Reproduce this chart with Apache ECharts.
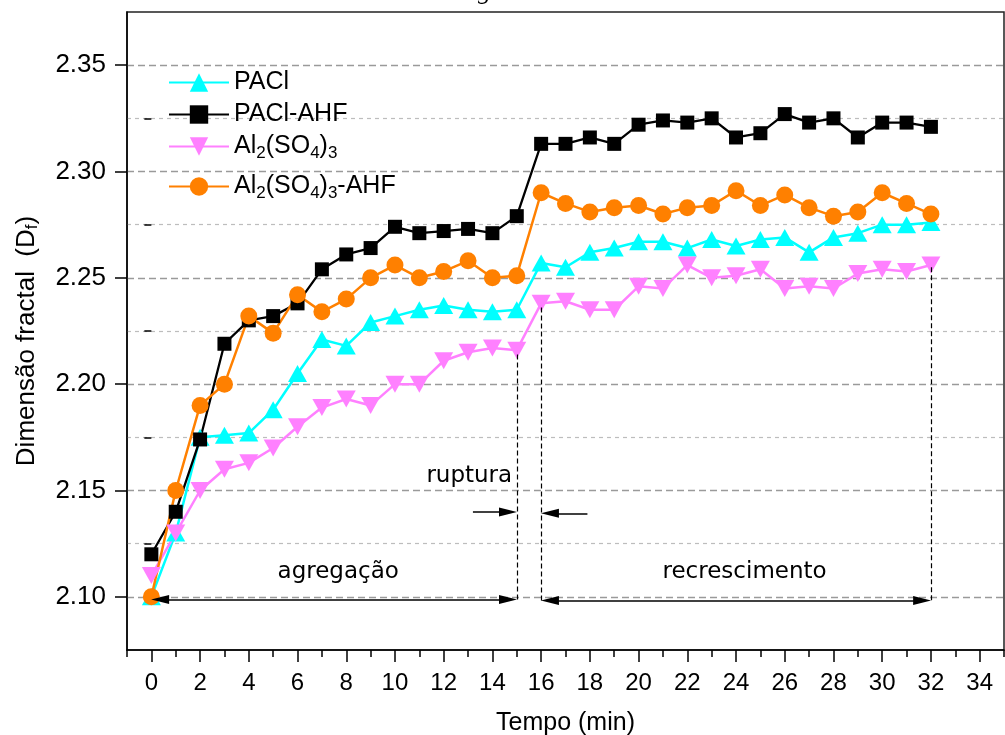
<!DOCTYPE html>
<html>
<head>
<meta charset="utf-8">
<script src="https://cdn.jsdelivr.net/npm/echarts@6/dist/echarts.min.js"></script>
<style>
html,body{margin:0;padding:0;background:#fff;}
#chart{width:1005px;height:735px;}
</style>
</head>
<body>
<div id="chart"></div>
<script>
// ---- data ----
const times = [0,1,2,3,4,5,6,7,8,9,10,11,12,13,14,15,16,17,18,19,20,21,22,23,24,25,26,27,28,29,30,31,32];
const paclValues = [2.100,2.130,2.175,2.176,2.177,2.188,2.205,2.221,2.218,2.229,2.232,2.235,2.237,2.235,2.234,2.235,2.257,2.255,2.262,2.264,2.267,2.267,2.264,2.268,2.265,2.268,2.269,2.262,2.269,2.271,2.275,2.275,2.276];
const paclAhfValues = [2.120,2.140,2.174,2.219,2.230,2.232,2.238,2.254,2.261,2.264,2.274,2.271,2.272,2.273,2.271,2.279,2.313,2.313,2.316,2.313,2.322,2.324,2.323,2.325,2.316,2.318,2.327,2.323,2.325,2.316,2.323,2.323,2.321];
const alsValues = [2.110,2.130,2.150,2.160,2.163,2.170,2.180,2.189,2.193,2.190,2.200,2.200,2.211,2.215,2.217,2.216,2.238,2.239,2.235,2.235,2.246,2.245,2.256,2.250,2.251,2.254,2.245,2.246,2.245,2.252,2.254,2.253,2.256];
const alsAhfValues = [2.100,2.150,2.190,2.200,2.232,2.224,2.242,2.234,2.240,2.250,2.256,2.250,2.253,2.258,2.250,2.251,2.290,2.285,2.281,2.283,2.284,2.280,2.283,2.284,2.291,2.284,2.289,2.283,2.279,2.281,2.290,2.285,2.280];

const seriesNames = ['PACl','PACl-AHF','Al2(SO4)3','Al2(SO4)3-AHF'];
const legendLabels = ['PACl','PACl-AHF','Al{s|2}(SO{s|4}){s|3}','Al{s|2}(SO{s|4}){s|3}-AHF'];

const xMajorTicks = [0,2,4,6,8,10,12,14,16,18,20,22,24,26,28,30,32,34];
const xMinorTicks = [-1,1,3,5,7,9,11,13,15,17,19,21,23,25,27,29,31,33,35];
const yMajorTicks = [2.10,2.15,2.20,2.25,2.30,2.35];
const yMinorTicks = [2.125,2.175,2.225,2.275,2.325];

// annotations (data units); arrow end points sit where the arrowhead centre goes
const guideLines = [[15,2.214,2.0975],[16,2.236,2.0975],[32,2.255,2.0975]];
const phaseArrows = [[0.36,14.64,2.0988],[16.36,31.64,2.0983]];
const ruptureArrows = [[13.2,14.64,2.1399],[17.9,16.36,2.1393]];
const phaseLabels = [['agregação',7.67,2.1116],['recrescimento',24.35,2.1116],['ruptura',13.05,2.1567]];

// ---- build ----
const pair = (vals) => times.map((t,i)=>[t, vals[i]]);
const FONT = 'Liberation Sans, Arial, sans-serif';
const subRich = {
  s: {fontSize: 17, fontFamily: FONT, color:'#000', padding:[14,0,0,0]}
};

const markLineData = [];
guideLines.forEach(g => {
  markLineData.push([{coord:[g[0],g[1]], symbol:'none', lineStyle:{type:[5,3], width:1.2, color:'#000'}},
                     {coord:[g[0],g[2]], symbol:'none'}]);
});
phaseArrows.forEach(a => {
  markLineData.push([{coord:[a[0],a[2]], symbol:'triangle', symbolSize:[9,18], lineStyle:{type:'solid', width:1.6, color:'#000'}},
                     {coord:[a[1],a[2]], symbol:'triangle', symbolSize:[9,18]}]);
});
ruptureArrows.forEach(a => {
  markLineData.push([{coord:[a[0],a[2]], symbol:'none', lineStyle:{type:'solid', width:1.6, color:'#000'}},
                     {coord:[a[1],a[2]], symbol:'triangle', symbolSize:[9,18]}]);
});

const markPointData = phaseLabels.map(l => ({
  coord:[l[1], l[2]], symbol:'circle', symbolSize:0,
  label:{show:true, formatter:l[0], position:'inside', color:'#000', fontSize:23, fontFamily:'DejaVu Sans, sans-serif'}
}));

const legends = seriesNames.map((n,i) => ({
  data:[n],
  orient:'vertical',
  left:168,
  top:[70,102,134,174][i],
  padding:0,
  itemWidth:60,
  itemHeight:23,
  itemGap:0,
  selectedMode:false,
  formatter: () => legendLabels[i],
  textStyle:{fontSize:25, fontFamily:FONT, color:'#000', rich: subRich}
}));

const chart = echarts.init(document.getElementById('chart'), null, {renderer:'canvas'});
chart.setOption({
  animation:false,
  backgroundColor:'#fff',
  grid:{left:127, right:1, top:12, bottom:85, containLabel:false, outerBoundsMode:'none',
        show:true, borderColor:'#222', borderWidth:1.5, backgroundColor:'transparent'},
  legend: legends,
  graphic:[{type:'text', left:478, top:-21, style:{text:'g', font:'italic 26px "Liberation Serif"', fill:'#000'}}],
  xAxis:[{
    type:'value', min:-1, max:35,
    axisLine:{show:true, onZero:false, lineStyle:{color:'#000', width:1.5}},
    axisTick:{show:true, inside:false, length:12, customValues:xMajorTicks, lineStyle:{color:'#000', width:1.5}},
    axisLabel:{show:true, customValues:xMajorTicks, margin:21, fontSize:24, fontFamily:FONT, color:'#000'},
    splitLine:{show:false},
    name:'Tempo (min)', nameLocation:'middle', nameGap:61,
    nameTextStyle:{fontSize:25, fontFamily:FONT, color:'#000'}
  },{
    type:'value', min:-1, max:35, position:'bottom',
    axisLine:{show:false},
    axisTick:{show:true, inside:false, length:7, customValues:xMinorTicks, lineStyle:{color:'#000', width:1.5}},
    axisLabel:{show:false},
    splitLine:{show:false}
  }],
  yAxis:[{
    type:'value', min:2.075, max:2.375,
    axisLine:{show:true, onZero:false, lineStyle:{color:'#000', width:1.5}},
    axisTick:{show:true, inside:false, length:12, customValues:yMajorTicks, lineStyle:{color:'#000', width:1.5}},
    axisLabel:{show:true, customValues:yMajorTicks, margin:21, fontSize:26, fontFamily:FONT, color:'#000',
      formatter:(v)=>v.toFixed(2)},
    splitLine:{show:true, lineStyle:{color:'#9a9a9a', width:1.3, type:[7,4]}},
    name:'{a|Dimensão fractal  (D}{s|f}{a|)}', nameLocation:'middle', nameGap:86, nameRotate:90,
    nameTextStyle:{padding:[0,20,0,0], rich:{a:{fontSize:26, fontFamily:FONT, color:'#000'}, s:{fontSize:17, fontFamily:FONT, color:'#000', padding:[12,0,0,0]}}}
  },{
    type:'value', min:2.075, max:2.375, position:'left',
    axisLine:{show:false},
    axisTick:{show:true, inside:false, length:7, customValues:yMinorTicks, lineStyle:{color:'#000', width:1.5}},
    axisLabel:{show:false},
    splitLine:{show:true, lineStyle:{color:'#bdbdbd', width:1.2, type:[4,4]}}
  }],
  series:[{
    name:'PACl', type:'line', xAxisIndex:0, yAxisIndex:0, data:pair(paclValues),
    symbol:'triangle', symbolSize:[19,17], color:'#00FFFF',
    lineStyle:{width:2.5, color:'#00FFFF'}, itemStyle:{color:'#00FFFF'}
  },{
    name:'PACl-AHF', type:'line', data:pair(paclAhfValues),
    symbol:'rect', symbolSize:14, color:'#000000',
    lineStyle:{width:2.3, color:'#000'}, itemStyle:{color:'#000'}
  },{
    name:'Al2(SO4)3', type:'line', data:pair(alsValues),
    symbol:'triangle', symbolRotate:180, symbolSize:[19,17], color:'#FF80FF',
    lineStyle:{width:2.5, color:'#FF80FF'}, itemStyle:{color:'#FF80FF'},
    markLine:{silent:true, animation:false, label:{show:false}, data:markLineData},
    markPoint:{silent:true, animation:false, data:markPointData}
  },{
    name:'Al2(SO4)3-AHF', type:'line', data:pair(alsAhfValues),
    symbol:'circle', symbolSize:17, color:'#FF8000',
    lineStyle:{width:2.5, color:'#FF8000'}, itemStyle:{color:'#FF8000'}
  }]
});
</script>
</body>
</html>
